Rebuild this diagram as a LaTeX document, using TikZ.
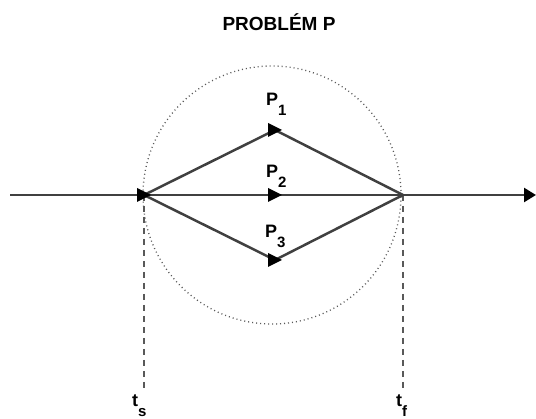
\documentclass[tikz,border=0pt]{standalone}
\usepackage{fontspec}
\setmainfont{Liberation Sans}
\usetikzlibrary{arrows.meta}

\newcommand{\subidx}[1]{\raisebox{-10pt}{\fontsize{15}{15}\selectfont #1}}

\begin{document}
\begin{tikzpicture}[
  x=1pt, y=-1pt,
  wire/.style={draw=black!75, line width=2.5pt},
  guide/.style={draw=black!65, line width=1.5pt, dash pattern=on 6pt off 5pt},
  ring/.style={draw=black!65, line width=1.3pt, dash pattern=on 1pt off 3pt},
  tag/.style={font=\fontsize{18}{20}\selectfont\bfseries, inner sep=0pt, anchor=base west},
  head/.style={fill=black},
  exitarrow/.style={-{Triangle[length=12pt, width=14pt, color=black]}}
]
  \useasboundingbox (0,0) rectangle (536,419);

  % Title
  \node[tag, anchor=base, font=\fontsize{19}{21}\selectfont\bfseries] (title) at (279,31) {PROBLÉM P};

  % Junctions (y grows downward)
  \coordinate (in)  at (10,195);
  \coordinate (ts)  at (144,195);
  \coordinate (p1)  at (275,130);
  \coordinate (p2)  at (275,195);
  \coordinate (p3)  at (275,260);
  \coordinate (tf)  at (403,195);
  \coordinate (outp) at (536,195);
  \coordinate (ts0) at (144,388);
  \coordinate (tf0) at (403,388);
  \coordinate (mid) at (272,195);

  % Problem zone
  \draw[ring] (mid) circle[radius=129pt];

  % Time marks
  \draw[guide] (ts) -- (ts0);
  \draw[guide] (tf) -- (tf0);

  % Paths
  \draw[wire] (in) -- (ts);
  \foreach \p in {p1,p2,p3} {
    \draw[wire] (ts) -- (\p) -- (tf);
  }
  \draw[wire, exitarrow] (tf) -- (outp);

  % Direction marks
  \foreach \m in {ts,p1,p2,p3} {
    \fill[head] (\m) ++(7,0) -- ++(-14,-7) -- ++(0,14) -- cycle;
  }

  % Labels
  \node[tag] (l1)  at (266,106) {P\subidx{1}};
  \node[tag] (l2)  at (266,178) {P\subidx{2}};
  \node[tag] (l3)  at (265,238) {P\subidx{3}};
  \node[tag] (lts) at (132,407) {t\subidx{s}};
  \node[tag] (ltf) at (396,407) {t\subidx{f}};

\end{tikzpicture}
\end{document}
